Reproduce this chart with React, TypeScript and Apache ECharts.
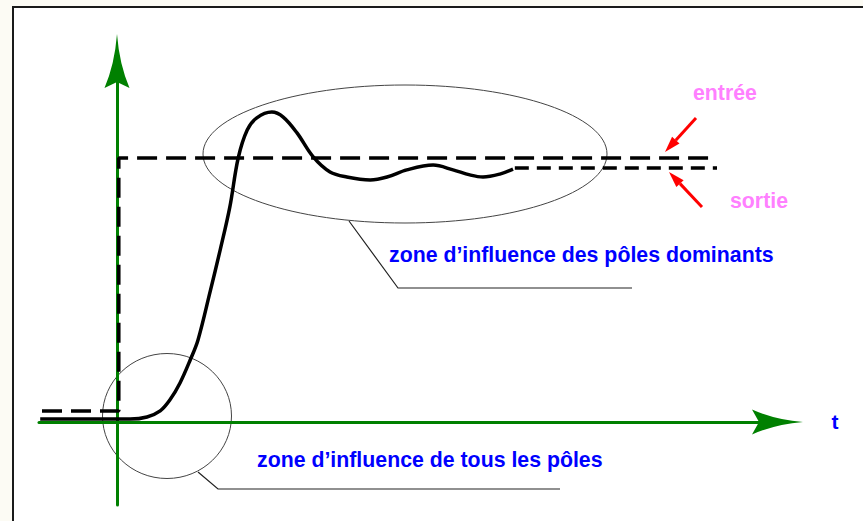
import React, { useEffect, useRef } from 'react';
import * as echarts from 'echarts';

// input (entrée) step: t, value
const inputT = [-1.25, 0.03, 0.03, 10];
const inputV = [0.042, 0.042, 1.0, 1.0];

// output (sortie) response, solid part
const outputT = [-1.28, 0, 0.22, 0.5, 0.72, 0.88, 1.05, 1.22, 1.35, 1.55, 1.72, 1.88, 2.02, 2.17, 2.33, 2.58, 2.77, 3.0, 3.27, 3.55, 3.83, 4.22, 4.5, 4.83, 5.27, 5.6, 5.88, 6.1, 6.38, 6.6];
const outputV = [0.011, 0.011, 0.011, 0.019, 0.042, 0.083, 0.148, 0.235, 0.311, 0.492, 0.652, 0.814, 1.0, 1.106, 1.152, 1.174, 1.155, 1.095, 1.004, 0.947, 0.928, 0.917, 0.928, 0.955, 0.973, 0.955, 0.936, 0.928, 0.939, 0.958];

// output steady-state (dashed tail)
const tailT = [6.63, 10];
const tailV = [0.962, 0.962];

const axisName = 't';
const inputLabel = 'entrée';
const outputLabel = 'sortie';
const dominantLabel = 'zone d\u2019influence des pôles dominants';
const allPolesLabel = 'zone d\u2019influence de tous les pôles';

const FONT = '"Liberation Sans", Arial, sans-serif';
const GREEN = '#008000';
const BLUE = '#0000ff';
const PINK = '#ff80ff';
const RED = '#ff0000';

// arrow symbols drawn with the aspect of their symbol boxes (axis symbols keep aspect)
const arrowY = 'path://M12.5,0 Q14.8,30 25,54 L12.5,48 L0,54 Q10.2,30 12.5,0 Z';
const arrowX = 'path://M12.5,0 Q14.8,28 25,51 L12.5,44 L0,51 Q10.2,28 12.5,0 Z';

function redArrow(x1: number, y1: number, x2: number, y2: number) {
  const dx = x2 - x1, dy = y2 - y1;
  const len = Math.sqrt(dx * dx + dy * dy);
  const ux = dx / len, uy = dy / len;
  const nx = -uy, ny = ux;
  const hl = 16, hw = 5;
  const bx = x2 - ux * hl, by = y2 - uy * hl;
  return [
    { type: 'line', shape: { x1, y1, x2: bx, y2: by }, style: { stroke: RED, lineWidth: 3 } },
    {
      type: 'polygon',
      shape: { points: [[x2, y2], [bx + nx * hw, by + ny * hw], [bx - nx * hw, by - ny * hw]] },
      style: { fill: RED },
    },
  ];
}

function label(text: string, x: number, y: number, color: string) {
  return {
    type: 'text',
    x,
    y,
    style: {
      text,
      fill: color,
      font: `bold 21.3px ${FONT}`,
      align: 'left',
      verticalAlign: 'middle',
      textAlign: 'left',
      textVerticalAlign: 'middle',
    },
  };
}

export default function App() {
  const ref = useRef<HTMLDivElement>(null);
  useEffect(() => {
    if (!ref.current) return;
    const chart = echarts.init(ref.current, undefined, { renderer: 'svg' });
    const zip = (a: number[], b: number[]) => a.map((v, i) => [v, b[i]]);
    chart.setOption({
      animation: false,
      backgroundColor: '#fcfbf4',
      grid: { left: 39, right: 85.5, top: 61, bottom: 16 },
      xAxis: {
        type: 'value',
        min: -1.3,
        max: 11.008,
        name: axisName,
        nameLocation: 'end',
        nameGap: 54,
        nameTextStyle: { color: BLUE, fontWeight: 'bold', fontSize: 21, fontFamily: FONT, verticalAlign: 'middle' },
        axisLine: {
          onZero: true,
          lineStyle: { color: GREEN, width: 3 },
          symbol: ['none', arrowX],
          symbolSize: [25, 51],
        },
        axisTick: { show: false },
        axisLabel: { show: false },
        splitLine: { show: false },
      },
      yAxis: {
        type: 'value',
        min: -0.3144,
        max: 1.3674,
        axisLine: {
          onZero: true,
          lineStyle: { color: GREEN, width: 3 },
          symbol: ['none', arrowY],
          symbolSize: [25, 54],
        },
        axisTick: { show: false },
        axisLabel: { show: false },
        splitLine: { show: false },
      },
      series: [
        {
          name: inputLabel,
          type: 'line',
          data: zip(inputT, inputV),
          symbol: 'none',
          lineStyle: { color: '#000', width: 3.5, type: [20, 9], cap: 'butt' },
          z: 3,
        },
        {
          name: outputLabel,
          type: 'line',
          data: zip(outputT, outputV),
          symbol: 'none',
          smooth: 0.35,
          lineStyle: { color: '#000', width: 3.5 },
          z: 3,
        },
        {
          name: outputLabel + ' (régime permanent)',
          type: 'line',
          data: zip(tailT, tailV),
          symbol: 'none',
          lineStyle: { color: '#000', width: 3.5, type: [14, 8], cap: 'butt' },
          z: 3,
        },
      ],
      graphic: [
        {
          type: 'rect',
          z: -100,
          shape: { x: 13, y: 7, width: 900, height: 600 },
          style: { fill: '#ffffff', stroke: '#1a1a1a', lineWidth: 2 },
        },
        {
          type: 'ellipse',
          shape: { cx: 405, cy: 154, rx: 202, ry: 69 },
          style: { fill: 'none', stroke: '#444', lineWidth: 1 },
        },
        {
          type: 'ellipse',
          shape: { cx: 167, cy: 416, rx: 64.5, ry: 62.5 },
          style: { fill: 'none', stroke: '#444', lineWidth: 1 },
        },
        {
          type: 'polyline',
          shape: { points: [[349, 221], [398, 288], [632, 288]] },
          style: { fill: 'none', stroke: '#222', lineWidth: 1.2 },
        },
        {
          type: 'polyline',
          shape: { points: [[198, 472], [218, 489], [560, 489]] },
          style: { fill: 'none', stroke: '#222', lineWidth: 1.2 },
        },
        ...redArrow(696, 118, 665, 152),
        ...redArrow(702, 207, 669, 172),
        label(inputLabel, 693, 92.7, PINK),
        label(outputLabel, 730, 200.7, PINK),
        label(dominantLabel, 389, 254.6, BLUE),
        label(allPolesLabel, 257, 459.6, BLUE),
      ],
    });
    return () => chart.dispose();
  }, []);
  return <div ref={ref} style={{ position: 'fixed', left: 0, top: 0, width: 863, height: 521 }} />;
}
